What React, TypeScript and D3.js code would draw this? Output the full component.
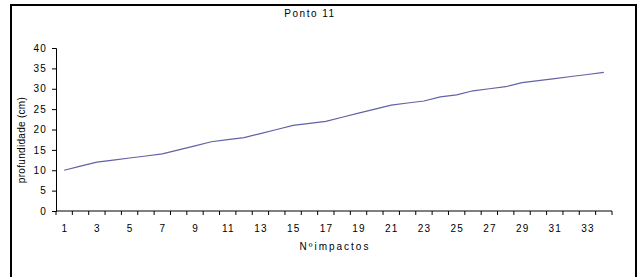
import { useEffect, useRef } from "react";
import * as d3 from "d3";

// Nº impactos (categories) and profundidade (cm)
const impactos: number[] = d3.range(1, 35);
const profundidade: number[] = [
  10, 11, 12, 12.5, 13, 13.5, 14, 15, 16, 17, 17.5, 18, 19, 20, 21, 21.5, 22,
  23, 24, 25, 26, 26.5, 27, 28, 28.5, 29.5, 30, 30.5, 31.5, 32, 32.5, 33, 33.5, 34,
];
const yTicks: number[] = [0, 5, 10, 15, 20, 25, 30, 35, 40];

const title = "Ponto 11";
const xTitle = "Nºimpactos";
const yTitle = "profundidade (cm)";

const WIDTH = 640;
const HEIGHT = 277;
const FONT = "Arial, 'Liberation Sans', sans-serif";

export default function App() {
  const svgRef = useRef<SVGSVGElement>(null);

  useEffect(() => {
    if (!svgRef.current) return;
    const svg = d3.select(svgRef.current);
    svg.selectAll("*").remove();

    const plot = { left: 56, right: 612, top: 48, bottom: 211 };

    const x = d3.scaleBand<number>()
      .domain(impactos)
      .range([plot.left, plot.right]);

    const y = d3.scaleLinear()
      .domain([0, 40])
      .range([plot.bottom, plot.top]);

    // outer frame
    svg.append("rect")
      .attr("x", 11)
      .attr("y", 5)
      .attr("width", 625)
      .attr("height", 276)
      .attr("fill", "#fff")
      .attr("stroke", "#000")
      .attr("stroke-width", 2);

    // y axis
    const yAxis = svg.append("g")
      .attr("transform", `translate(${plot.left},0)`)
      .call(d3.axisLeft(y).tickValues(yTicks).tickSize(4).tickPadding(5));
    yAxis.select(".domain").attr("stroke", "#000");
    yAxis.selectAll("text")
      .attr("font-family", FONT)
      .attr("font-size", 10)
      .attr("letter-spacing", 1.2)
      .attr("fill", "#000");

    // x axis: ticks sit between categories, labels on odd ones
    const xAxis = svg.append("g")
      .attr("transform", `translate(0,${plot.bottom})`);
    xAxis.append("line")
      .attr("x1", plot.left)
      .attr("x2", plot.right)
      .attr("stroke", "#000");
    const bounds = impactos.map(d => x(d) as number).concat([plot.right]);
    xAxis.selectAll("line.tick")
      .data(bounds)
      .enter()
      .append("line")
      .attr("class", "tick")
      .attr("x1", d => d)
      .attr("x2", d => d)
      .attr("y1", 0)
      .attr("y2", 4)
      .attr("stroke", "#000");
    xAxis.selectAll("text")
      .data(impactos.filter(d => d % 2 === 1))
      .enter()
      .append("text")
      .attr("x", d => (x(d) as number) + x.bandwidth() / 2 + 0.6)
      .attr("y", 21)
      .attr("text-anchor", "middle")
      .attr("font-family", FONT)
      .attr("font-size", 10)
      .attr("letter-spacing", 1.2)
      .attr("fill", "#000")
      .text(d => d);

    // series line
    const line = d3.line<number>()
      .x((d, i) => (x(impactos[i]) as number) + x.bandwidth() / 2)
      .y(d => y(d));
    svg.append("path")
      .datum(profundidade)
      .attr("d", line)
      .attr("fill", "none")
      .attr("stroke", "#6262a6")
      .attr("stroke-width", 1.2);

    // titles
    svg.append("text")
      .attr("x", 310)
      .attr("y", 17)
      .attr("text-anchor", "middle")
      .attr("font-family", FONT)
      .attr("font-size", 10)
      .attr("letter-spacing", 1.5)
      .text(title);

    svg.append("text")
      .attr("x", 335)
      .attr("y", 250)
      .attr("text-anchor", "middle")
      .attr("font-family", FONT)
      .attr("font-size", 10)
      .attr("letter-spacing", 2)
      .text(xTitle);

    svg.append("text")
      .attr("transform", "translate(25,140) rotate(-90)")
      .attr("text-anchor", "middle")
      .attr("font-family", FONT)
      .attr("font-size", 10)
      .attr("letter-spacing", 0.3)
      .text(yTitle);
  }, []);

  return (
    <svg
      ref={svgRef}
      width={WIDTH}
      height={HEIGHT}
      style={{ position: "absolute", left: 0, top: 0, background: "#fff" }}
    />
  );
}
